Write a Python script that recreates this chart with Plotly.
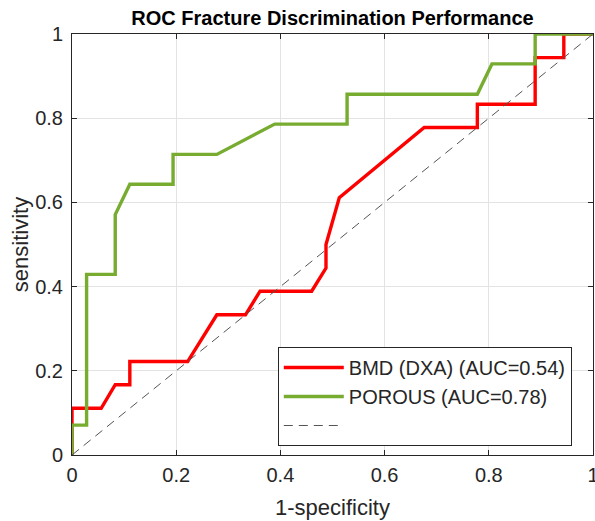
import plotly.graph_objects as go

# BMD (DXA) ROC curve
bmd_fpr = [0, 0, 0.056, 0.083, 0.111, 0.111, 0.222, 0.278, 0.333, 0.361, 0.46, 0.4875, 0.4875, 0.513, 0.676, 0.778, 0.778, 0.889, 0.889, 0.944, 0.944, 1.0]
bmd_tpr = [0, 0.111, 0.111, 0.167, 0.167, 0.222, 0.222, 0.333, 0.333, 0.389, 0.389, 0.444, 0.5, 0.611, 0.778, 0.778, 0.833, 0.833, 0.944, 0.944, 1.0, 1.0]

# POROUS ROC curve
por_fpr = [0, 0, 0.028, 0.028, 0.083, 0.083, 0.111, 0.194, 0.194, 0.278, 0.389, 0.528, 0.528, 0.778, 0.806, 0.889, 0.889, 1.0]
por_tpr = [0, 0.071, 0.071, 0.429, 0.429, 0.571, 0.643, 0.643, 0.714, 0.714, 0.786, 0.786, 0.857, 0.857, 0.929, 0.929, 1.0, 1.0]

# chance line
ref_x = [0, 1]
ref_y = [0, 1]

names = ["BMD (DXA) (AUC=0.54)", "POROUS (AUC=0.78)", ""]
ticks = [0, 0.2, 0.4, 0.6, 0.8, 1]
tick_text = ["0", "0.2", "0.4", "0.6", "0.8", "1"]

FONT = "Liberation Sans, Arial, sans-serif"

W, H = 595, 521

fig = go.Figure()
fig.add_trace(go.Scatter(x=bmd_fpr, y=bmd_tpr, mode="lines", name=names[0],
                         line=dict(color="#FF0000", width=3.4)))
fig.add_trace(go.Scatter(x=por_fpr, y=por_tpr, mode="lines", name=names[1],
                         line=dict(color="#77AC30", width=3.4)))
fig.add_trace(go.Scatter(x=ref_x, y=ref_y, mode="lines", name=names[2],
                         line=dict(color="#555555", width=1, dash="9px,6px")))

axis_common = dict(
    range=[0, 1], tickvals=ticks, ticktext=tick_text, automargin=False,
    ticklabeloverflow="allow",
    showgrid=True, gridcolor="#E3E3E3", gridwidth=1,
    zeroline=False, showline=True, linecolor="#262626", linewidth=1,
    mirror="ticks", ticks="inside", ticklen=5, tickcolor="#262626",
    tickfont=dict(family=FONT, size=20, color="#262626"),
)

fig.update_layout(
    width=W, height=H,
    margin=dict(l=72, r=2, t=34, b=66),
    paper_bgcolor="white", plot_bgcolor="white",
    title=dict(text="<b>ROC Fracture Discrimination Performance</b>",
               x=(72 + 593) / 2 / W, xanchor="center", y=1 - 17.5 / H, yanchor="middle",
               font=dict(family=FONT, size=20, color="black")),
    xaxis=dict(axis_common, ticklabelstandoff=2,
               title=dict(text="1-specificity", standoff=14,
                          font=dict(family=FONT, size=22, color="#262626"))),
    yaxis=dict(axis_common, ticklabelstandoff=4,
               title=dict(text="sensitivity", standoff=0,
                          font=dict(family=FONT, size=22, color="#262626"))),
    legend=dict(x=0.395, y=0.2565, xanchor="left", yanchor="top",
                bgcolor="white", bordercolor="#262626", borderwidth=1,
                font=dict(family=FONT, size=20, color="#262626"),
                tracegroupgap=0, itemwidth=60),
    showlegend=True,
)

fig.write_html("out.html",
               config={"displayModeBar": False},
               post_script="document.body.style.margin='0px';document.body.style.overflow='hidden';")
